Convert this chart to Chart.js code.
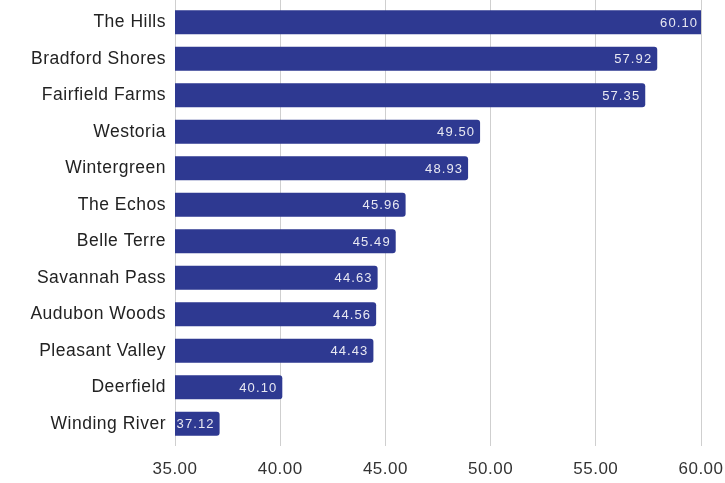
<!DOCTYPE html>
<html>
<head>
<meta charset="utf-8">
<script src="https://cdn.jsdelivr.net/npm/chart.js@4"></script>
<style>
  html, body { margin: 0; padding: 0; background: #fff; }
  #wrap { width: 725px; height: 483px; position: relative; }
</style>
</head>
<body>
<div id="wrap"><canvas id="chart"></canvas></div>
<script>
const neighborhoods = [
  "The Hills", "Bradford Shores", "Fairfield Farms", "Westoria", "Wintergreen", "The Echos",
  "Belle Terre", "Savannah Pass", "Audubon Woods", "Pleasant Valley", "Deerfield", "Winding River"
];
const scores = [60.10, 57.92, 57.35, 49.50, 48.93, 45.96, 45.49, 44.63, 44.56, 44.43, 40.10, 37.12];
const xTicks = [35, 40, 45, 50, 55, 60];

const barColor = "#2e3991";
const gridColor = "#cfcfcf";
const fontFamily = "'Liberation Sans', Arial, sans-serif";

// the reference text is a little loosely spaced
const spacing = {
  id: "spacing",
  beforeLayout(chart) { chart.ctx.letterSpacing = "0.5px"; },
  beforeDraw(chart) { chart.ctx.letterSpacing = "0.5px"; }
};

// value labels sit inside the bar end, on a small box of the bar colour
const valueLabels = {
  id: "valueLabels",
  afterDatasetsDraw(chart) {
    const ctx = chart.ctx;
    const meta = chart.getDatasetMeta(0);
    ctx.save();
    ctx.letterSpacing = "1.1px";
    ctx.font = "13px " + fontFamily;
    ctx.textBaseline = "middle";
    ctx.textAlign = "right";
    meta.data.forEach((bar, i) => {
      const text = scores[i].toFixed(2);
      const w = ctx.measureText(text).width;
      const right = bar.x - 5;
      const boxL = right - w - 4;
      const boxR = right + 5;
      if (boxL < bar.base) {
        ctx.fillStyle = barColor;
        ctx.beginPath();
        ctx.roundRect(boxL, bar.y - 11, boxR - boxL, 22, 3);
        ctx.fill();
      }
      ctx.fillStyle = "#e8e8f2";
      ctx.fillText(text, right, bar.y + 1);
    });
    ctx.restore();
  }
};

// grid lines run right up to the top edge of the canvas
const topGrid = {
  id: "topGrid",
  beforeDatasetsDraw(chart) {
    const ctx = chart.ctx;
    const x = chart.scales.x;
    ctx.save();
    ctx.strokeStyle = gridColor;
    ctx.lineWidth = 1;
    xTicks.forEach(t => {
      const px = Math.round(x.getPixelForValue(t) - 0.5) + 0.5;
      ctx.beginPath();
      ctx.moveTo(px, 0);
      ctx.lineTo(px, chart.chartArea.top);
      ctx.stroke();
    });
    ctx.restore();
  }
};

new Chart(document.getElementById("chart"), {
  type: "bar",
  data: {
    labels: neighborhoods,
    datasets: [{
      data: scores,
      backgroundColor: barColor,
      borderRadius: 3,
      categoryPercentage: 1,
      barPercentage: 0.66
    }]
  },
  options: {
    indexAxis: "y",
    responsive: true,
    maintainAspectRatio: false,
    animation: false,
    layout: { padding: { top: 4, right: 24, left: 0, bottom: 0 } },
    plugins: { legend: { display: false }, tooltip: { enabled: false } },
    scales: {
      x: {
        min: 35,
        max: 60,
        afterBuildTicks: scale => { scale.ticks = xTicks.map(v => ({ value: v })); },
        afterFit: scale => {
          scale.height = 41;
          scale.paddingLeft = 0;
          scale.paddingRight = 0;
        },
        border: { display: false },
        grid: { color: gridColor, drawTicks: true, tickLength: 4, tickColor: gridColor },
        ticks: {
          padding: 13,
          color: "#333",
          font: { family: fontFamily, size: 17 },
          callback: v => Number(v).toFixed(2)
        }
      },
      y: {
        afterFit: scale => {
          scale.width = 175;
          scale.paddingTop = 0;
          scale.paddingBottom = 0;
        },
        border: { display: false },
        grid: { display: false, drawTicks: false },
        ticks: {
          padding: 9,
          color: "#222",
          font: { family: fontFamily, size: 17.5 }
        }
      }
    }
  },
  plugins: [spacing, topGrid, valueLabels]
});
</script>
</body>
</html>
